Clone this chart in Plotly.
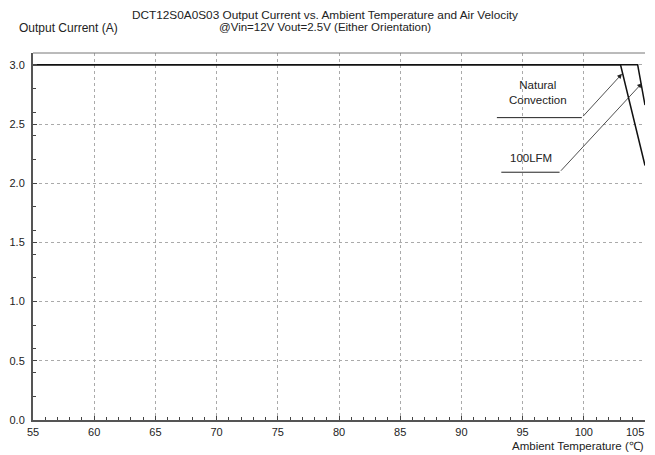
import plotly.graph_objects as go

# derating curves
natural_x = [55, 103, 105]
natural_y = [3.0, 3.0, 2.15]
lfm100_x = [55, 104.4, 105]
lfm100_y = [3.0, 3.0, 2.66]

x_ticks = [55, 60, 65, 70, 75, 80, 85, 90, 95, 100, 105]
y_ticks = [0.0, 0.5, 1.0, 1.5, 2.0, 2.5, 3.0]

# callout labels: text, text position, elbow (x0, x1, y), arrow tip
callouts = [
    ("Natural<br>Convection", (96.25, 2.77), (92.9, 99.84, 2.554), (103.12, 2.924)),
    ("100LFM", (95.67, 2.214), (93.26, 98.02, 2.093), (104.75, 2.845)),
]

FONT = "Liberation Sans, Arial, sans-serif"
TXT = "#222222"

fig = go.Figure()
fig.add_trace(go.Scatter(x=natural_x, y=natural_y, mode="lines",
                         line=dict(color="#111111", width=1.5), name="Natural Convection"))
fig.add_trace(go.Scatter(x=lfm100_x, y=lfm100_y, mode="lines",
                         line=dict(color="#111111", width=1.5), name="100LFM"))

for text, (tx, ty), (hx0, hx1, hy), (ax, ay) in callouts:
    fig.add_annotation(x=tx, y=ty, text=text, showarrow=False,
                       font=dict(size=11.5, color=TXT))
    fig.add_shape(type="line", x0=hx0, x1=hx1, y0=hy, y1=hy,
                  line=dict(color=TXT, width=1))
    fig.add_annotation(x=ax, y=ay, ax=hx1, ay=hy, axref="x", ayref="y",
                       xref="x", yref="y", text="", showarrow=True,
                       arrowhead=2, arrowsize=1.2, arrowwidth=0.8, arrowcolor=TXT)

# top border of the plot frame
fig.add_shape(type="line", xref="paper", yref="paper", x0=0, x1=1, y0=1, y1=1,
              line=dict(color="#777777", width=1))

# titles as annotations (page body adds an 8px offset, figure coords shifted accordingly)
fig.add_annotation(xref="paper", yref="paper", x=0.477, y=1.1035, xanchor="center", yanchor="middle",
                   text="DCT12S0A0S03 Output Current vs. Ambient Temperature and Air Velocity",
                   showarrow=False, font=dict(size=11.8, color=TXT))
fig.add_annotation(xref="paper", yref="paper", x=0.477, y=1.0695, xanchor="center", yanchor="middle",
                   text="@Vin=12V Vout=2.5V (Either Orientation)",
                   showarrow=False, font=dict(size=11.5, color=TXT))
fig.add_annotation(xref="paper", yref="paper", x=-0.026, y=1.0668, xanchor="left", yanchor="middle",
                   text="Output Current (A)", showarrow=False, font=dict(size=12, color=TXT))
fig.add_annotation(xref="paper", yref="paper", x=1.0016, y=-0.0722, xanchor="right", yanchor="middle",
                   text="Ambient Temperature (℃)", showarrow=False, font=dict(size=11.5, color=TXT))
# last x label kept inside the visible page edge
fig.add_annotation(xref="paper", yref="paper", x=1.0016, y=-0.0327, xanchor="right", yanchor="middle",
                   text=str(x_ticks[-1]), showarrow=False, font=dict(size=11, color=TXT))

fig.update_layout(
    width=647, height=447,
    margin=dict(l=25, r=10, t=45, b=35, autoexpand=False),
    paper_bgcolor="white", plot_bgcolor="white",
    showlegend=False,
    font=dict(family=FONT, size=11, color=TXT),
)
fig.update_xaxes(range=[55, 105], tickvals=x_ticks,
                 ticktext=[str(v) for v in x_ticks[:-1]] + [""],
                 ticks="inside", ticklen=4,
                 tickcolor="#444444", showline=True, linecolor="#555555", linewidth=2,
                 showgrid=True, gridcolor="#aaaaaa", griddash="dot", gridwidth=1,
                 ticklabelstandoff=1, automargin=False,
                 zeroline=False, minor=dict(dtick=1, ticks="inside", ticklen=3, tickcolor="#444444"))
fig.update_yaxes(range=[0, 3.1], tickvals=y_ticks, tickformat=".1f", ticks="inside", ticklen=4,
                 tickcolor="#444444", showline=True, linecolor="#555555", linewidth=2,
                 showgrid=True, gridcolor="#aaaaaa", griddash="dot", gridwidth=1,
                 ticklabelstandoff=4, automargin=False,
                 zeroline=False, minor=dict(dtick=0.2, tick0=0, ticks="inside", ticklen=3, tickcolor="#444444"))

fig.write_html("out.html")
